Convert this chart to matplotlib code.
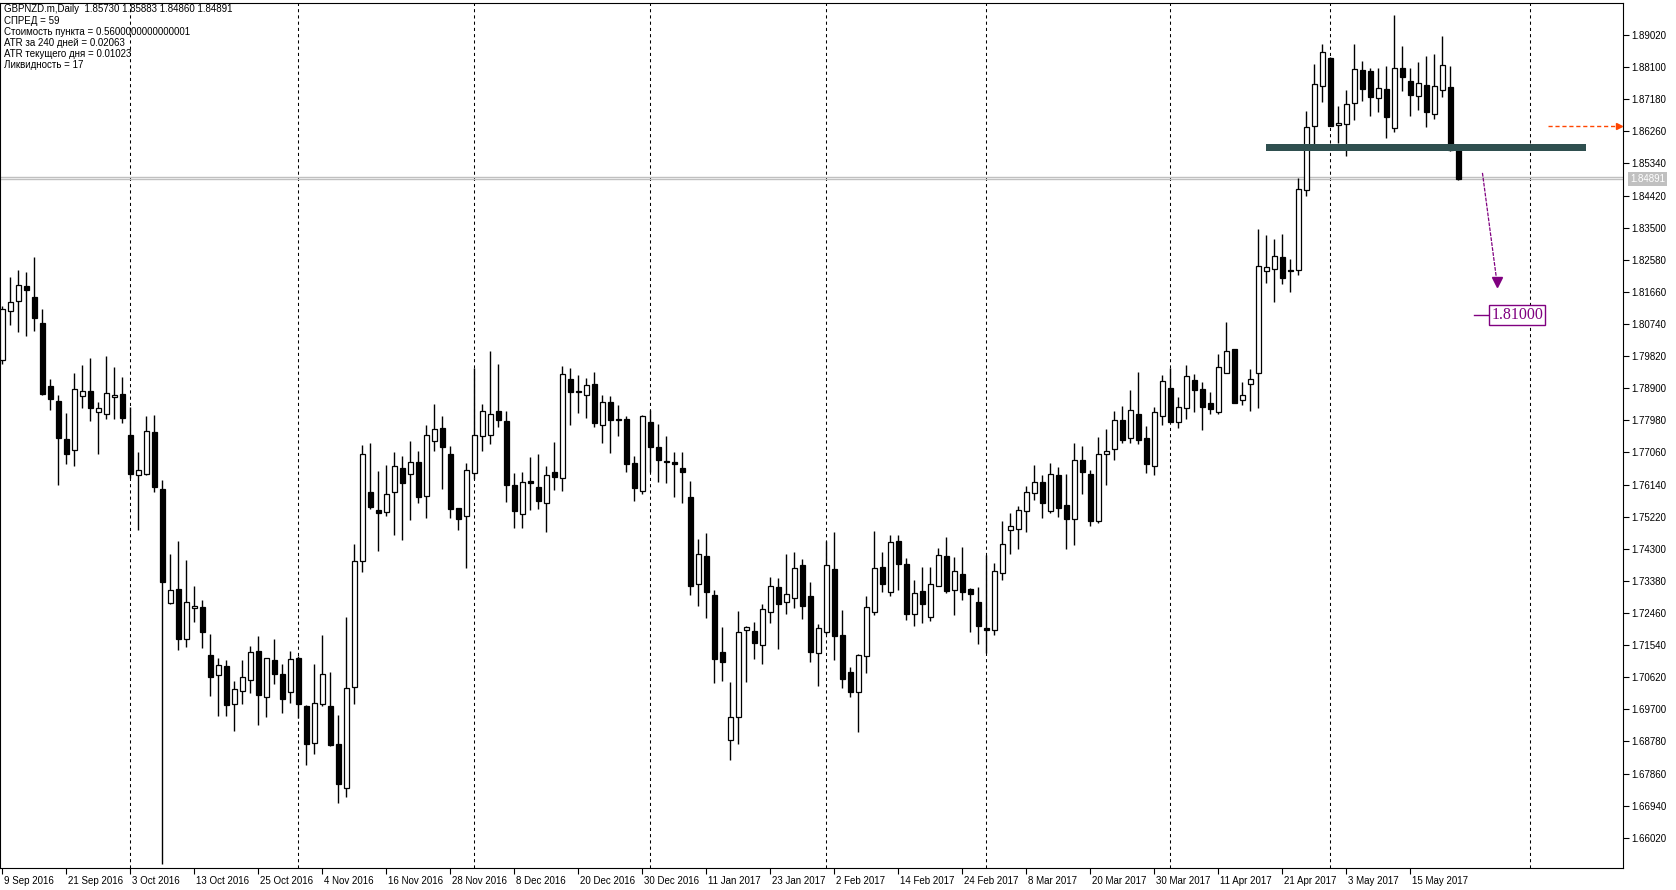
import matplotlib
matplotlib.use("Agg")
import matplotlib.pyplot as plt
import matplotlib.transforms as mtransforms
from matplotlib.patches import Rectangle
import pandas as pd

plt.rcParams['font.family'] = ['Liberation Sans', 'DejaVu Sans']

symbol = "GBPNZD.m,Daily"
start_date = "2016-09-09"

# daily OHLC, 9 Sep 2016 .. 23 May 2017
opens = [
    1.7971, 1.8111, 1.8140, 1.8184, 1.8152, 1.8077, 1.7896, 1.7853, 1.7745, 1.7714,
    1.7867, 1.7883, 1.7821, 1.7815, 1.7864, 1.7873, 1.7756, 1.7641, 1.7645, 1.7764,
    1.7601, 1.7275, 1.7315, 1.7171, 1.7260, 1.7263, 1.7125, 1.7067, 1.7093, 1.6985,
    1.7022, 1.7055, 1.7138, 1.7004, 1.7112, 1.7072, 1.7019, 1.7118, 1.6979, 1.6875,
    1.6984, 1.6979, 1.6870, 1.6746, 1.7033, 1.7395, 1.7592, 1.7540, 1.7534, 1.7592,
    1.7661, 1.7643, 1.7678, 1.7580, 1.7738, 1.7775, 1.7703, 1.7546, 1.7523, 1.7646,
    1.7752, 1.7755, 1.7825, 1.7796, 1.7612, 1.7529, 1.7623, 1.7606, 1.7560, 1.7649,
    1.7632, 1.7916, 1.7881, 1.7872, 1.7902, 1.7784, 1.7850, 1.7801, 1.7801, 1.7675,
    1.7597, 1.7792, 1.7721, 1.7681, 1.7678, 1.7661, 1.7577, 1.7328, 1.7408, 1.7297,
    1.7133, 1.6882, 1.6949, 1.7196, 1.7194, 1.7153, 1.7248, 1.7320, 1.7277, 1.7288,
    1.7383, 1.7294, 1.7131, 1.7193, 1.7371, 1.7182, 1.7076, 1.7021, 1.7122, 1.7248,
    1.7377, 1.7305, 1.7451, 1.7386, 1.7242, 1.7309, 1.7236, 1.7323, 1.7408, 1.7311,
    1.7357, 1.7314, 1.7277, 1.7203, 1.7196, 1.7360, 1.7483, 1.7486, 1.7537, 1.7589,
    1.7620, 1.7537, 1.7640, 1.7556, 1.7516, 1.7683, 1.7643, 1.7511, 1.7701, 1.7715,
    1.7798, 1.7748, 1.7815, 1.7747, 1.7668, 1.7811, 1.7890, 1.7792, 1.7832, 1.7913,
    1.7887, 1.7847, 1.7821, 1.7933, 1.8002, 1.7855, 1.7901, 1.7933, 1.8226, 1.8231,
    1.8265, 1.8228, 1.8228, 1.8457, 1.8640, 1.8755, 1.8835, 1.8643, 1.8648, 1.8706,
    1.8801, 1.8798, 1.8721, 1.8746, 1.8635, 1.8807, 1.8770, 1.8726, 1.8758, 1.8675,
    1.8743, 1.8752, 1.85730,
]
highs = [
    1.8125, 1.8210, 1.8229, 1.8224, 1.8267, 1.8117, 1.7917, 1.7871, 1.7818, 1.7934,
    1.7957, 1.7977, 1.7851, 1.7982, 1.7951, 1.7923, 1.7836, 1.7707, 1.7810, 1.7813,
    1.7627, 1.7416, 1.7451, 1.7399, 1.7324, 1.7284, 1.7186, 1.7118, 1.7110, 1.7052,
    1.7112, 1.7152, 1.7179, 1.7118, 1.7172, 1.7100, 1.7137, 1.7123, 1.6982, 1.7100,
    1.7182, 1.7076, 1.6955, 1.7235, 1.7445, 1.7727, 1.7733, 1.7653, 1.7670, 1.7707,
    1.7696, 1.7739, 1.7710, 1.7785, 1.7845, 1.7810, 1.7724, 1.7546, 1.7675, 1.7948,
    1.7845, 1.7997, 1.7959, 1.7825, 1.7646, 1.7650, 1.7693, 1.7701, 1.7667, 1.7736,
    1.7954, 1.7948, 1.7928, 1.7918, 1.7937, 1.7871, 1.7869, 1.7842, 1.7810, 1.7696,
    1.7813, 1.7828, 1.7787, 1.7753, 1.7707, 1.7707, 1.7624, 1.7458, 1.7475, 1.7312,
    1.7206, 1.7048, 1.7252, 1.7209, 1.7220, 1.7271, 1.7348, 1.7345, 1.7415, 1.7421,
    1.7400, 1.7335, 1.7215, 1.7452, 1.7478, 1.7255, 1.7091, 1.7128, 1.7295, 1.7480,
    1.7421, 1.7470, 1.7470, 1.7403, 1.7341, 1.7378, 1.7378, 1.7432, 1.7464, 1.7406,
    1.7435, 1.7319, 1.7320, 1.7413, 1.7389, 1.7509, 1.7532, 1.7553, 1.7609, 1.7669,
    1.7640, 1.7675, 1.7663, 1.7644, 1.7733, 1.7725, 1.7655, 1.7750, 1.7773, 1.7825,
    1.7839, 1.7884, 1.7936, 1.7781, 1.7836, 1.7928, 1.7947, 1.7865, 1.7957, 1.7931,
    1.7908, 1.7879, 1.7988, 1.8080, 1.8002, 1.7908, 1.7944, 1.8346, 1.8329, 1.8318,
    1.8332, 1.8260, 1.8491, 1.8684, 1.8819, 1.8876, 1.8838, 1.8700, 1.8745, 1.8876,
    1.8828, 1.8807, 1.8807, 1.8813, 1.8959, 1.8870, 1.8807, 1.8825, 1.8842, 1.8848,
    1.8899, 1.8813, 1.85883,
]
lows = [
    1.7960, 1.8070, 1.8050, 1.8039, 1.8053, 1.7871, 1.7829, 1.7613, 1.7674, 1.7668,
    1.7832, 1.7795, 1.7702, 1.7801, 1.7803, 1.7789, 1.7633, 1.7484, 1.7642, 1.7593,
    1.6527, 1.7271, 1.7139, 1.7150, 1.7219, 1.7145, 1.7009, 1.6951, 1.6951, 1.6907,
    1.6984, 1.7017, 1.6925, 1.6949, 1.7043, 1.6960, 1.6989, 1.6944, 1.6812, 1.6843,
    1.6979, 1.6866, 1.6703, 1.6719, 1.6985, 1.7364, 1.7545, 1.7425, 1.7524, 1.7470,
    1.7456, 1.7513, 1.7562, 1.7519, 1.7711, 1.7602, 1.7519, 1.7485, 1.7376, 1.7631,
    1.7711, 1.7731, 1.7780, 1.7565, 1.7490, 1.7490, 1.7542, 1.7545, 1.7479, 1.7598,
    1.7597, 1.7786, 1.7820, 1.7806, 1.7780, 1.7734, 1.7705, 1.7754, 1.7651, 1.7568,
    1.7588, 1.7649, 1.7622, 1.7619, 1.7577, 1.7560, 1.7299, 1.7265, 1.7233, 1.7046,
    1.7052, 1.6826, 1.6872, 1.7049, 1.7115, 1.7101, 1.7217, 1.7144, 1.7244, 1.7261,
    1.7230, 1.7107, 1.7038, 1.7186, 1.7112, 1.7032, 1.7006, 1.6906, 1.7075, 1.7241,
    1.7307, 1.7296, 1.7313, 1.7227, 1.7210, 1.7216, 1.7224, 1.7323, 1.7304, 1.7241,
    1.7284, 1.7193, 1.7158, 1.7132, 1.7184, 1.7342, 1.7416, 1.7428, 1.7479, 1.7571,
    1.7519, 1.7532, 1.7522, 1.7428, 1.7442, 1.7588, 1.7496, 1.7505, 1.7614, 1.7685,
    1.7734, 1.7734, 1.7731, 1.7648, 1.7642, 1.7786, 1.7794, 1.7777, 1.7803, 1.7823,
    1.7771, 1.7815, 1.7817, 1.7933, 1.7847, 1.7843, 1.7826, 1.7834, 1.8192, 1.8138,
    1.8190, 1.8167, 1.8213, 1.8442, 1.8590, 1.8709, 1.8640, 1.8594, 1.8556, 1.8659,
    1.8713, 1.8670, 1.8682, 1.8606, 1.8625, 1.8742, 1.8670, 1.8688, 1.8639, 1.8662,
    1.8725, 1.8571, 1.84860,
]
closes = [
    1.8117, 1.8137, 1.8187, 1.8172, 1.8090, 1.7873, 1.7860, 1.7748, 1.7701, 1.7887,
    1.7882, 1.7833, 1.7833, 1.7876, 1.7871, 1.7805, 1.7643, 1.7657, 1.7768, 1.7607,
    1.7336, 1.7313, 1.7173, 1.7279, 1.7266, 1.7191, 1.7064, 1.7097, 1.6982, 1.7028,
    1.7062, 1.7134, 1.7010, 1.7116, 1.7071, 1.7001, 1.7114, 1.6984, 1.6871, 1.6988,
    1.7072, 1.6868, 1.6755, 1.7031, 1.7396, 1.7701, 1.7551, 1.7532, 1.7586, 1.7666,
    1.7619, 1.7678, 1.7579, 1.7755, 1.7772, 1.7722, 1.7545, 1.7516, 1.7655, 1.7755,
    1.7824, 1.7815, 1.7800, 1.7612, 1.7539, 1.7620, 1.7619, 1.7568, 1.7640, 1.7637,
    1.7930, 1.7878, 1.7878, 1.7898, 1.7791, 1.7850, 1.7798, 1.7798, 1.7672, 1.7603,
    1.7810, 1.7721, 1.7683, 1.7678, 1.7672, 1.7649, 1.7324, 1.7414, 1.7306, 1.7115,
    1.7105, 1.6949, 1.7191, 1.7205, 1.7161, 1.7257, 1.7323, 1.7271, 1.7300, 1.7374,
    1.7267, 1.7135, 1.7202, 1.7383, 1.7181, 1.7058, 1.7021, 1.7125, 1.7262, 1.7374,
    1.7328, 1.7449, 1.7386, 1.7242, 1.7302, 1.7271, 1.7328, 1.7411, 1.7310, 1.7365,
    1.7307, 1.7300, 1.7210, 1.7196, 1.7365, 1.7443, 1.7494, 1.7540, 1.7594, 1.7622,
    1.7562, 1.7643, 1.7546, 1.7516, 1.7683, 1.7651, 1.7511, 1.7703, 1.7709, 1.7798,
    1.7741, 1.7827, 1.7743, 1.7674, 1.7821, 1.7910, 1.7794, 1.7835, 1.7924, 1.7886,
    1.7835, 1.7831, 1.7950, 1.7996, 1.7849, 1.7870, 1.7916, 1.8239, 1.8238, 1.8268,
    1.8207, 1.8225, 1.8462, 1.8638, 1.8761, 1.8852, 1.8642, 1.8649, 1.8703, 1.8804,
    1.8748, 1.8725, 1.8749, 1.8668, 1.8807, 1.8783, 1.8731, 1.8764, 1.8680, 1.8755,
    1.8815, 1.8573, 1.84891,
]

info_lines = [
    "СПРЕД = 59",
    "Стоимость пункта = 0.5600000000000001",
    "ATR за 240 дней = 0.02063",
    "ATR текущего дня = 0.01023",
    "Ликвидность = 17",
]

bid_price = 1.84891
ask_price = 1.84950
zone_low = 1.85705
zone_high = 1.85889
alert_price = 1.86405
arrow_start = 1.8507
arrow_end = 1.8181
target_price = 1.81000

dates = pd.bdate_range(start_date, periods=len(opens))
n = len(opens)
xs = list(range(n))

W, H = 1676, 890
fig = plt.figure(figsize=(W / 100, H / 100), dpi=100)
ax = fig.add_axes([0 / W, (H - 868) / H, 1623 / W, (868 - 2.5) / H])
ax.set_xlim(-0.3, 202.57)
ax.set_ylim(1.65155, 1.89951)

# month separators (future part of the axis counts calendar days, like MT5)
seps = [i for i in range(1, n) if dates[i].month != dates[i - 1].month]
fut = pd.date_range(dates[-1], periods=30, freq='D')
for k in range(1, len(fut)):
    if fut[k].month != fut[k - 1].month:
        seps.append(n - 1 + k)
for s in seps:
    ax.axvline(s, color='black', lw=0.75, ls=(0, (3, 3)), zorder=1)

# bid / ask lines
ax.axhline(bid_price, color='#C0C0C0', lw=1.0, zorder=1.5)
ax.axhline(ask_price, color='#C0C0C0', lw=1.0, zorder=1.5)

# candles
ax.vlines(xs, lows, highs, color='black', lw=1.0, zorder=2)
bottoms = [min(o, c) for o, c in zip(opens, closes)]
heights = [abs(c - o) for o, c in zip(opens, closes)]
faces = ['white' if c >= o else 'black' for o, c in zip(opens, closes)]
ax.bar(xs, heights, bottom=bottoms, width=0.55, color=faces,
       edgecolor='black', linewidth=0.9, zorder=3)

# support zone
ax.add_patch(Rectangle((157.95, zone_low), 40.0, zone_high - zone_low,
                       facecolor='#2F4F4F', edgecolor='none', zorder=4))

# alert arrow on the right
ax.plot([193.2, 202.0], [alert_price, alert_price], color='#FF4500',
        lw=1.0, ls=(0, (3, 2)), zorder=4)
ax.plot([202.1], [alert_price], marker='>', ms=4, color='#FF4500',
        clip_on=False, zorder=4)

# purple forecast arrow
ax.plot([185.0, 186.8], [arrow_start, arrow_end + 0.0015], color='purple',
        lw=0.9, ls=(0, (3, 1)), zorder=4)
ax.plot([186.85], [arrow_end + 0.0013], marker='v', ms=7, color='purple', zorder=4)

# target price label
ax.plot([183.95, 186.05], [target_price, target_price], color='purple', lw=1.0, zorder=4)
ax.text(186.1, target_price, f"{target_price:.5f}", color='purple',
        family=['Liberation Serif', 'DejaVu Serif'], fontsize=11.5,
        va='center', ha='left', zorder=5,
        bbox=dict(boxstyle='square,pad=0.12', fc='white', ec='purple', lw=1.0))

# axes styling
for sp in ax.spines.values():
    sp.set_color('black')
    sp.set_linewidth(0.8)

yticks = [round(1.6602 + 0.0092 * k, 5) for k in range(26)]
ax.yaxis.tick_right()
ax.set_yticks(yticks)
ax.set_yticklabels([f"{v:.5f}" for v in yticks])
ax.tick_params(axis='y', direction='out', length=4, width=0.8, pad=2, labelsize=7)

xt = list(range(0, n, 8))
ax.set_xticks(xt)
ax.set_xticklabels([f"{dates[i].day} {dates[i].strftime('%b %Y')}" for i in xt], ha='left')
ax.tick_params(axis='x', direction='out', length=4, width=0.8, pad=2, labelsize=7)
shift = mtransforms.ScaledTranslation(2 / 100, 0, fig.dpi_scale_trans)
for lab in ax.get_xticklabels():
    lab.set_transform(lab.get_transform() + shift)

# current bid label on the price scale
tr = mtransforms.blended_transform_factory(ax.transAxes, ax.transData)
ax.text(1.0045, bid_price, f"{bid_price:.5f}", transform=tr, color='white',
        fontsize=7, va='center', ha='left', clip_on=False, zorder=6,
        bbox=dict(boxstyle='square,pad=0.2', fc='#C0C0C0', ec='none'))

# info block in the top-left corner
header = f"{symbol}  {opens[-1]:.5f} {highs[-1]:.5f} {lows[-1]:.5f} {closes[-1]:.5f}"
for k, line in enumerate([header] + info_lines):
    fig.text(4 / W, 1 - (9.5 + 11.1 * k) / H, line, fontsize=7, va='center', ha='left')

fig.savefig("out.png", dpi=100)
